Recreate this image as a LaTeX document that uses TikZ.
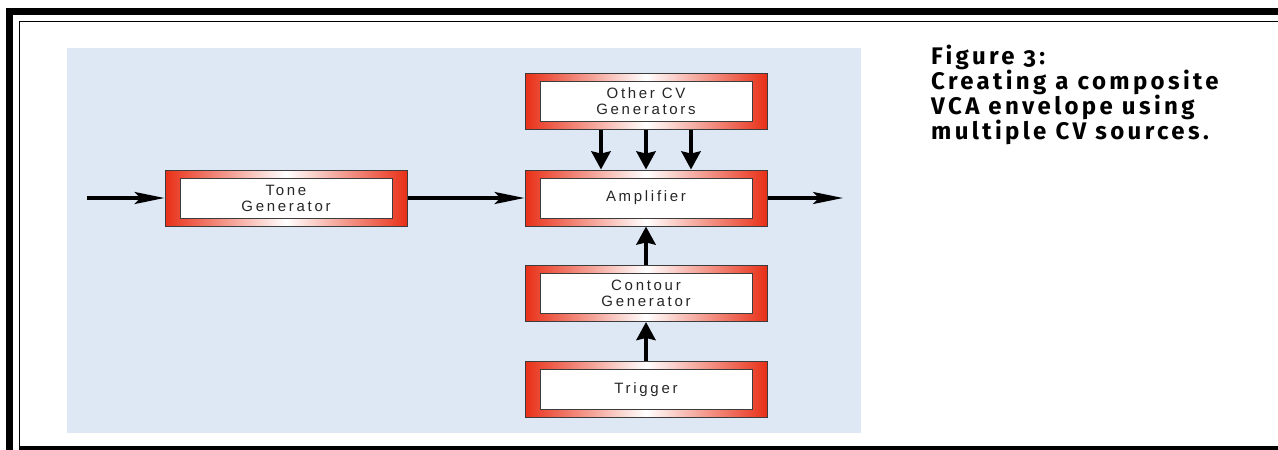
\documentclass[tikz,border=0pt]{standalone}
\usepackage{fontspec}
\setmainfont{Liberation Sans}
\newfontfamily\boxfont[LetterSpace=18]{Liberation Sans}
\newfontfamily\capfont[Numbers=OldStyle,LetterSpace=14]{Fira Sans}
\usetikzlibrary{arrows.meta}
\definecolor{panelblue}{RGB}{222,232,245}
\definecolor{boxred}{RGB}{232,48,24}
\definecolor{boxline}{RGB}{60,60,60}

\begin{document}
\begin{tikzpicture}[x=1pt,y=-1pt,
	module/.style={minimum width=242pt,minimum height=56pt,inner sep=0pt,
		draw=boxline,line width=1pt,left color=boxred,right color=boxred,middle color=white,
		align=center,text=black!85,font=\boxfont\fontsize{15}{16}\selectfont,
		path picture={\draw[fill=white,draw=boxline,line width=1pt]
			([xshift=15pt,yshift=8pt]path picture bounding box.south west) rectangle
			([xshift=-15pt,yshift=-8pt]path picture bounding box.north east);}},
	harrow/.style={line width=3.5pt,-{Stealth[length=30pt,width=12pt,inset=6pt]}},
	varrow/.style={line width=4pt,-{Stealth[length=18pt,width=19pt,inset=2pt]}}]
	\useasboundingbox (0,0) rectangle (1278,450);
	
	% frame and panel
	\draw[line width=7pt] (9.5,11.5) rectangle (1300,470);
	\draw[line width=1.5pt] (19.5,21.5) rectangle (1300,448);
	\fill (19,446) rectangle (1290,451);
	\fill[panelblue] (67,48) rectangle (861,433);
	
	\node[module] (tone) at (286,198) {Tone\\Generator};
	\node[module] (cv) at (646,101.5) {Other CV\\Generators};
	\node[module] (amp) at (646,198) {Amplifier};
	\node[module] (contour) at (646,293.5) {Contour\\Generator};
	\node[module] (trig) at (646,389.5) {Trigger};
	\coordinate (in) at (87,198);
	\coordinate (out) at (843,198);
	
	\path [harrow]
	(in) edge (tone)
	(tone) edge (amp)
	(amp) edge (out);
	\path [varrow]
	([xshift=-45pt]cv.south) edge ([xshift=-45pt]amp.north)
	(cv) edge (amp)
	([xshift=45pt]cv.south) edge ([xshift=45pt]amp.north)
	(contour) edge (amp)
	(trig) edge (contour);
	
	\node[anchor=north west,align=left,inner sep=0pt,
		font=\capfont\bfseries\fontsize{24}{25}\selectfont] (caption) at (931,45)
		{Figure 3:\\Creating a composite\\VCA envelope using\\multiple CV sources.};
\end{tikzpicture}
\end{document}
